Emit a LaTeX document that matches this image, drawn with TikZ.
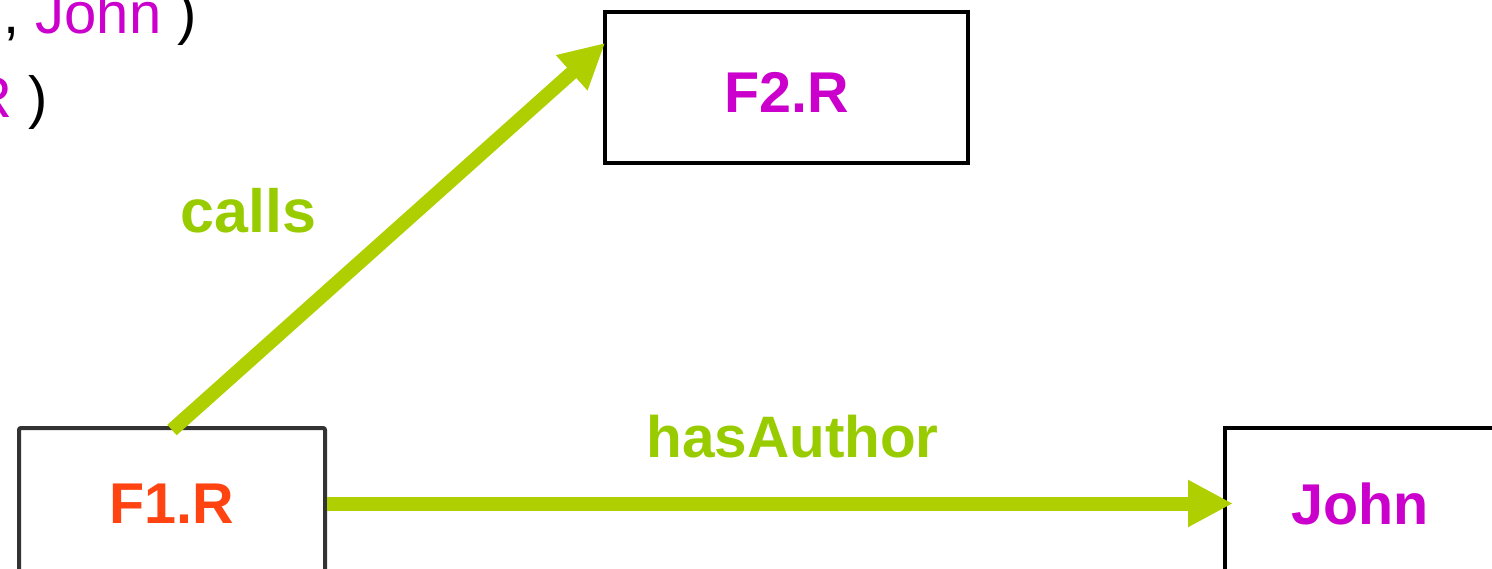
\documentclass[tikz,border=0pt]{standalone}
\usepackage{fontspec}
\setmainfont{Liberation Sans}
\usetikzlibrary{arrows.meta,calc}
\definecolor{relgreen}{HTML}{AFCF00}
\definecolor{lblgreen}{HTML}{99CC00}
\definecolor{resmagenta}{HTML}{CC00CC}
\definecolor{resorange}{HTML}{FF4411}
\definecolor{boxgray}{HTML}{333333}
\begin{document}
\begin{tikzpicture}[x=1pt,y=-1pt,
  resbox/.style={draw=black,line width=4pt,inner sep=0pt,
    font=\fontsize{57.5}{62}\selectfont\bfseries,text=resmagenta},
  relarrow/.style={draw=relgreen,line width=14pt,
    -{Triangle[length=45pt,width=44pt]}},
  rellabel/.style={font=\fontsize{61}{66}\selectfont\bfseries,text=lblgreen,
    inner sep=0pt,anchor=base},
  triple/.style={font=\fontsize{58}{62}\selectfont,inner sep=0pt,anchor=base east}]
\useasboundingbox (0,0) rectangle (1492,569);

% resources
\node[resbox,minimum width=363pt,minimum height=151pt,text height=50pt] (f2) at (786.5,87.5) {F2.R};
\node[resbox,draw=boxgray,rounded corners=2pt,text=resorange,
      minimum width=306pt,minimum height=151pt] (f1) at (172,503.5) {F1.R};
\node[resbox,minimum width=270pt,minimum height=151pt] (john) at (1360,503.5) {John};

% relations
\coordinate (callsEnd) at ($(f2.north west)!0.225!(f2.south west)$);
\coordinate (callsStart) at ($(f1.north)+(0,4)$);
\draw[relarrow,shorten >=-3pt] (callsStart) -- (callsEnd);
\draw[relarrow,shorten >=-10pt] (f1.east) -- (john.west);

\node[rellabel] (lcalls) at (248.5,233) {calls};
\node[rellabel,font=\fontsize{58.5}{62}\selectfont\bfseries] (lauthor) at (792.5,457) {hasAuthor};

% triples listed at the upper left
\node[triple] (t1) at (197,34) {, \textcolor{resmagenta}{John} )};
\node[triple] (t2) at (48,118) {\textcolor{resmagenta}{R} )};
\end{tikzpicture}
\end{document}
